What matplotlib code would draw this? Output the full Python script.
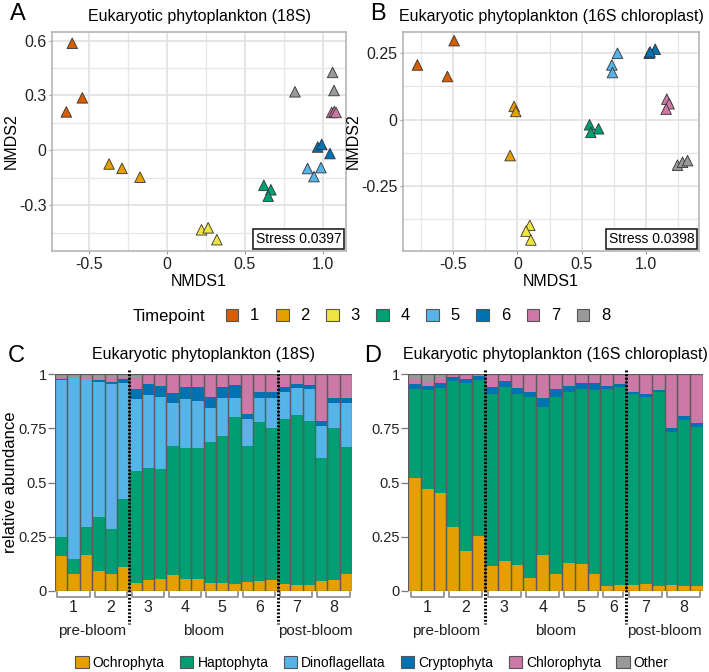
import numpy as np
import matplotlib.pyplot as plt
import matplotlib.transforms as mtransforms
from matplotlib.patches import Patch

plt.rcParams['font.family'] = ['Liberation Sans', 'DejaVu Sans']

# colours per timepoint (1..8)
tp_colors = ['#D55E00', '#E69F00', '#F0E442', '#009E73',
             '#56B4E9', '#0072B2', '#CC79A7', '#999999']

# ---- NMDS, 18S ----
tp_18s = [1, 1, 1, 2, 2, 2, 3, 3, 3, 4, 4, 4, 5, 5, 5, 6, 6, 6, 7, 7, 7, 8, 8, 8]
nmds1_18s = [-0.61, -0.545, -0.648, -0.373, -0.29, -0.174, 0.221, 0.264, 0.32,
             0.622, 0.667, 0.65, 0.903, 0.989, 0.944, 0.968, 0.994, 1.047,
             1.058, 1.075, 1.086, 0.822, 1.064, 1.073]
nmds2_18s = [0.585, 0.287, 0.21, -0.075, -0.099, -0.147, -0.435, -0.424, -0.489,
             -0.192, -0.216, -0.251, -0.10, -0.095, -0.144, 0.018, 0.032, -0.018,
             0.207, 0.212, 0.207, 0.32, 0.426, 0.327]

# ---- NMDS, 16S chloroplast ----
tp_16s = [1, 1, 1, 2, 2, 2, 3, 3, 3, 4, 4, 4, 5, 5, 5, 6, 6, 6, 7, 7, 7, 8, 8, 8]
nmds1_16s = [-0.777, -0.492, -0.544, -0.026, -0.013, -0.057, 0.096, 0.067, 0.104,
             0.56, 0.63, 0.57, 0.777, 0.733, 0.738, 1.023, 1.07, 1.03,
             1.16, 1.178, 1.155, 1.243, 1.282, 1.321]
nmds2_16s = [0.206, 0.2975, 0.1625, 0.05, 0.031, -0.135, -0.3975, -0.419, -0.4525,
             -0.019, -0.034, -0.0475, 0.25, 0.206, 0.1775, 0.25, 0.265, 0.255,
             0.0775, 0.06, 0.04, -0.171, -0.16, -0.154]

# ---- relative abundance ----
taxa = ['Ochrophyta', 'Haptophyta', 'Dinoflagellata', 'Cryptophyta', 'Chlorophyta', 'Other']
taxa_colors = ['#E69F00', '#009E73', '#56B4E9', '#0072B2', '#CC79A7', '#999999']

groups_18s = [3, 3, 3, 3, 3, 3, 3, 3]
ochro_18s = [.163, .078, .164, .094, .077, .109, .038, .051, .055, .074, .054, .054,
             .035, .035, .032, .041, .045, .051, .031, .026, .028, .048, .051, .077]
hapto_18s = [.084, .069, .132, .245, .207, .313, .517, .514, .506, .594, .606, .606,
             .653, .679, .771, .627, .735, .702, .760, .784, .755, .563, .702, .585]
dino_18s = [.725, .833, .679, .626, .670, .538, .328, .337, .331, .197, .226, .217,
            .154, .174, .085, .123, .108, .135, .125, .124, .146, .149, .112, .203]
crypto_18s = [.005, .003, .004, .007, .011, .015, .046, .052, .053, .049, .053, .062,
              .054, .054, .061, .023, .031, .031, .023, .020, .020, .023, .026, .026]
chloro_18s = [.003, .002, .003, .008, .015, .005, .051, .041, .055, .086, .061, .061,
              .104, .058, .051, .186, .081, .081, .061, .046, .051, .217, .109, .109]
other_18s = [.020, .015, .018, .020, .020, .020, .020, .005, 0, 0, 0, 0,
             0, 0, 0, 0, 0, 0, 0, 0, 0, 0, 0, 0]

groups_16s = [3, 3, 3, 3, 3, 2, 3, 3]
ochro_16s = [.522, .469, .453, .293, .183, .255, .113, .136, .118, .060, .166, .079,
             .130, .125, .079, .021, .026, .029, .031, .024, .026, .021, .023]
hapto_16s = [.408, .455, .483, .675, .774, .718, .795, .806, .790, .832, .684, .817,
             .786, .806, .848, .910, .913, .879, .862, .892, .707, .768, .733]
dino_16s = [0] * 23
crypto_16s = [.024, .020, .024, .020, .020, .018, .031, .027, .026, .027, .039, .037,
              .029, .026, .030, .014, .015, .011, .015, .011, .018, .016, .018]
chloro_16s = [.024, .019, .025, .012, .023, .009, .061, .031, .066, .081, .111, .067,
              .055, .043, .043, .055, .046, .081, .092, .073, .249, .195, .226]
other_16s = [.022, .037, .015, 0, 0, 0, 0, 0, 0, 0, 0, 0,
             0, 0, 0, 0, 0, 0, 0, 0, 0, 0, 0]

phases = ['pre-bloom', 'bloom', 'post-bloom']
phase_groups = [2, 4, 2]

fig = plt.figure(figsize=(7.09, 6.72), dpi=100)


def nmds_panel(rect, x, y, tp, xlim, ylim, xt, xminor, yt, yminor, ylabels, title, stress):
    ax = fig.add_axes(rect)
    ax.set_xlim(xlim)
    ax.set_ylim(ylim)
    ax.set_xticks(xt, ['-0.5', '0', '0.5', '1.0'])
    ax.set_xticks(xminor, minor=True)
    ax.set_yticks(yt, ylabels)
    ax.set_yticks(yminor, minor=True)
    ax.grid(True, which='major', color='#dedede', lw=1.1)
    ax.grid(True, which='minor', color='#e6e6e6', lw=0.9)
    ax.set_axisbelow(True)
    for s in ax.spines.values():
        s.set_color('#b5b5b5')
        s.set_linewidth(1.2)
    ax.tick_params(which='major', length=2.5, width=0.8, color='#999999',
                   labelsize=11.5, pad=1.5, labelcolor='#222222')
    ax.tick_params(which='minor', length=0)
    cols = [tp_colors[t - 1] for t in tp]
    ax.scatter(x, y, marker='^', s=58, c=cols, edgecolors='#333333', linewidths=0.6, zorder=3)
    ax.set_xlabel('NMDS1', fontsize=11.5, labelpad=2)
    ax.set_ylabel('NMDS2', fontsize=11.5, labelpad=0)
    ax.set_title(title, fontsize=11.5, pad=8)
    ax.text(0.985, 0.022, 'Stress ' + stress, transform=ax.transAxes, ha='right', va='bottom',
            fontsize=10, zorder=5,
            bbox=dict(boxstyle='square,pad=0.2', fc='white', ec='#222222', lw=1.2))
    return ax


nmds_panel([52 / 709, 1 - 251 / 672, 294 / 709, 219 / 672], nmds1_18s, nmds2_18s, tp_18s,
           (-0.74, 1.15), (-0.551, 0.647), [-0.5, 0, 0.5, 1.0], [-0.25, 0.25, 0.75],
           [-0.3, 0, 0.3, 0.6], [-0.45, -0.15, 0.15, 0.45], ['-0.3', '0', '0.3', '0.6'],
           'Eukaryotic phytoplankton (18S)', '0.0397')
nmds_panel([403 / 709, 1 - 251 / 672, 296 / 709, 219 / 672], nmds1_16s, nmds2_16s, tp_16s,
           (-0.889, 1.41), (-0.494, 0.33), [-0.5, 0, 0.5, 1.0], [-0.75, -0.25, 0.25, 0.75, 1.25],
           [-0.25, 0, 0.25], [-0.375, -0.125, 0.125], ['-0.25', '0', '0.25'],
           'Eukaryotic phytoplankton (16S chloroplast)', '0.0398')


def bar_panel(rect, layers, groups, title):
    ax = fig.add_axes(rect)
    n = len(layers[0])
    x = np.arange(n)
    bottom = np.zeros(n)
    for vals, col in zip(layers, taxa_colors):
        ax.bar(x, vals, width=1.0, bottom=bottom, color=col, edgecolor='none')
        bottom = bottom + np.array(vals)
    ax.bar(x, bottom, width=1.0, facecolor='none', edgecolor='#5c5c5c', linewidth=0.9)
    ax.set_xlim(-0.5, n - 0.5)
    ax.set_ylim(0, 1)
    for s in ax.spines.values():
        s.set_visible(False)
    ax.set_xticks([])
    ax.set_yticks([0, 0.25, 0.5, 0.75, 1], ['0', '0.25', '0.5', '0.75', '1'])
    ax.tick_params(axis='y', length=5, width=0.9, color='#777777', labelsize=10.5, pad=1,
                   labelcolor='#222222')
    ax.set_title(title, fontsize=11.5, pad=11)
    trans = mtransforms.blended_transform_factory(ax.transData, ax.transAxes)
    # group brackets + timepoint numbers
    starts = np.cumsum([0] + groups[:-1])
    for i, (s0, k) in enumerate(zip(starts, groups)):
        x0, x1 = s0 - 0.5 + 0.2, s0 + k - 0.5 - 0.2
        ax.plot([x0, x0, x1, x1], [-0.006, -0.026, -0.026, -0.006], color='#8a8a8a',
                lw=1.2, transform=trans, clip_on=False)
        ax.text(s0 + (k - 1) / 2, -0.075, str(i + 1), transform=trans, ha='center',
                va='center', fontsize=11.5, color='#222222')
    # bloom phases
    g = 0
    for name, ng in zip(phases, phase_groups):
        first = starts[g]
        last = starts[g + ng - 1] + groups[g + ng - 1] - 1
        ax.text((first + last) / 2, -0.185, name, transform=trans, ha='center',
                va='center', fontsize=11, color='#222222')
        g += ng
        if g < len(groups):
            xs = starts[g] - 0.5
            ax.plot([xs, xs], [1.018, -0.152], color='black', lw=2.2, ls=(0, (0.6, 0.6)),
                    transform=trans, clip_on=False, zorder=5)
    return ax


axC = bar_panel([55 / 709, 1 - 591 / 672, 297 / 709, 217 / 672],
                [ochro_18s, hapto_18s, dino_18s, crypto_18s, chloro_18s, other_18s],
                groups_18s, 'Eukaryotic phytoplankton (18S)')
axC.set_ylabel('relative abundance', fontsize=12, labelpad=0)
bar_panel([408 / 709, 1 - 591 / 672, 295 / 709, 217 / 672],
          [ochro_16s, hapto_16s, dino_16s, crypto_16s, chloro_16s, other_16s],
          groups_16s, 'Eukaryotic phytoplankton (16S chloroplast)')

# panel letters
for lab, px, py in [('A', 10, 20), ('B', 370, 20), ('C', 8, 362), ('D', 364, 362)]:
    fig.text(px / 709, 1 - py / 672, lab, fontsize=17, ha='left', va='baseline')

# timepoint legend
fig.text(133 / 709, 1 - 316 / 672, 'Timepoint', fontsize=12, ha='left', va='center')
tp_handles = [Patch(facecolor=c, edgecolor='#555555', lw=0.8, label=str(i + 1))
              for i, c in enumerate(tp_colors)]
fig.legend(handles=tp_handles, ncol=8, loc='center', bbox_to_anchor=(418 / 709, 1 - 316 / 672),
           frameon=False, fontsize=12, handlelength=0.75, handleheight=0.75,
           handletextpad=0.7, columnspacing=1.0, borderpad=0)

# taxa legend
tx_handles = [Patch(facecolor=c, edgecolor='#555555', lw=0.8, label=t)
              for t, c in zip(taxa, taxa_colors)]
fig.legend(handles=tx_handles, ncol=6, loc='center', bbox_to_anchor=(372 / 709, 1 - 663 / 672),
           frameon=False, fontsize=10, handlelength=0.95, handleheight=0.95,
           handletextpad=0.3, columnspacing=1.1, borderpad=0)

fig.savefig('out.png', dpi=100)
